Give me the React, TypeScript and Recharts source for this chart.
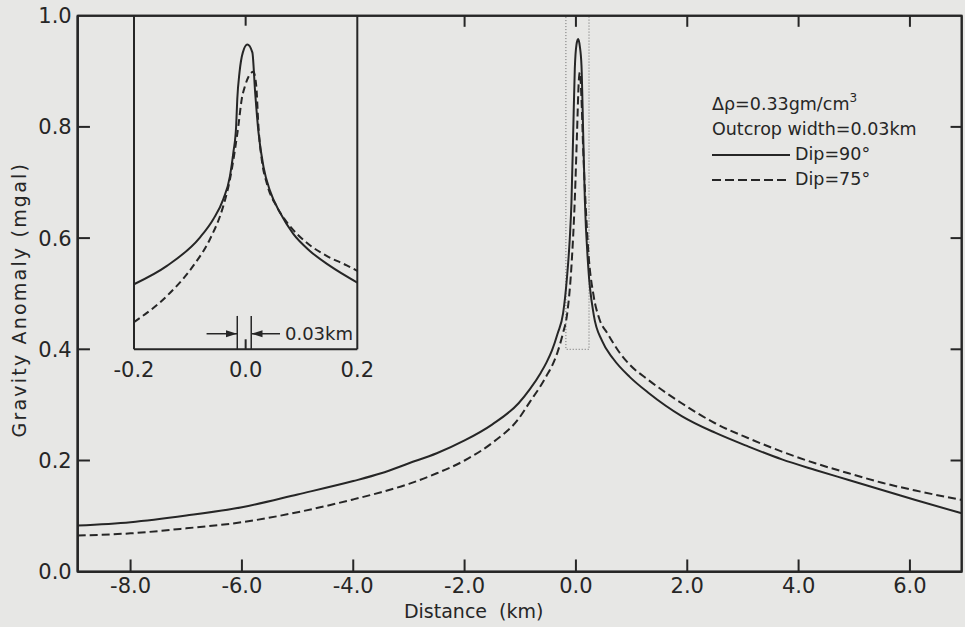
import React from "react";
import {
  LineChart,
  Line,
  XAxis,
  YAxis,
  ReferenceArea,
  ReferenceLine,
  ReferenceDot,
} from "recharts";

const FONT = "'DejaVu Sans', sans-serif";
const INK = "#262626";
const PAPER = "#e7e7e5";

// main profile, distance in km
const mainDist90 = [
  -8.95, -8, -7, -6, -5, -4, -3.5, -3, -2.5, -2, -1.5, -1.03, -0.83, -0.63,
  -0.53, -0.43, -0.33, -0.23, -0.16, -0.11, -0.08, -0.05, -0.02, 0.01, 0.04,
  0.07, 0.1, 0.13, 0.16, 0.22, 0.32, 0.47, 0.67, 0.97, 1.3, 1.9, 2.5, 3.1, 3.7,
  4.3, 4.9, 5.5, 6.1, 6.93,
];
const mainGrav90 = [
  0.083, 0.089, 0.101, 0.116, 0.139, 0.163, 0.177, 0.195, 0.213, 0.236, 0.265,
  0.303, 0.328, 0.358, 0.376, 0.398, 0.428, 0.465, 0.53, 0.6, 0.665, 0.785,
  0.905, 0.948, 0.958, 0.945, 0.91, 0.79, 0.67, 0.55, 0.462, 0.415, 0.383,
  0.35, 0.322, 0.28, 0.25, 0.225, 0.202, 0.183, 0.165, 0.147, 0.129, 0.105,
];
const mainDist75 = [
  -8.95, -8, -7, -6, -5, -4, -3.5, -3, -2.5, -2, -1.5, -1.03, -0.83, -0.63,
  -0.53, -0.43, -0.33, -0.23, -0.16, -0.08, -0.02, 0.02, 0.05, 0.07, 0.1, 0.13,
  0.17, 0.22, 0.32, 0.42, 0.57, 0.77, 0.97, 1.3, 1.9, 2.5, 3.1, 3.7, 4.3, 4.9,
  5.5, 6.1, 6.93,
];
const mainGrav75 = [
  0.065, 0.069, 0.078, 0.089, 0.107, 0.13, 0.143, 0.158, 0.177, 0.2, 0.232,
  0.275, 0.305, 0.335, 0.352, 0.37, 0.395, 0.43, 0.462, 0.55, 0.67, 0.79, 0.88,
  0.898, 0.85, 0.76, 0.67, 0.58, 0.495, 0.455, 0.428, 0.396, 0.372, 0.345,
  0.303, 0.267, 0.24, 0.216, 0.195, 0.177, 0.16, 0.146, 0.129,
];

// inset, -0.2 .. 0.2 km (same mgal scale as the main plot)
const insetDist90 = [
  -0.2, -0.141, -0.082, -0.058, -0.04, -0.028, -0.022, -0.017, -0.015, -0.011,
  -0.005, 0.003, 0.012, 0.017, 0.023, 0.032, 0.044, 0.062, 0.085, 0.115, 0.151,
  0.2,
];
const insetGrav90 = [
  0.517, 0.55, 0.601, 0.634, 0.67, 0.712, 0.754, 0.802, 0.85, 0.898, 0.934,
  0.948, 0.934, 0.862, 0.79, 0.728, 0.684, 0.645, 0.608, 0.577, 0.55, 0.52,
];
const insetDist75 = [
  -0.2, -0.141, -0.094, -0.064, -0.04, -0.028, -0.019, -0.013, -0.007, -0.001,
  0.006, 0.014, 0.019, 0.023, 0.029, 0.038, 0.056, 0.079, 0.109, 0.145, 0.181,
  0.2,
];
const insetGrav75 = [
  0.449, 0.496, 0.55, 0.598, 0.658, 0.706, 0.76, 0.802, 0.85, 0.874, 0.892,
  0.899, 0.874, 0.8, 0.74, 0.698, 0.656, 0.622, 0.592, 0.568, 0.551, 0.541,
];

const X_MIN = -8.95;
const X_MAX = 6.93;
const mainXTicks = [-8, -6, -4, -2, 0, 2, 4, 6];
const mainTopTicks = [-2, 0, 2, 4, 6];
const mainYTicks = [0, 0.2, 0.4, 0.6, 0.8, 1.0];
const innerYTicks = [0.2, 0.4, 0.6, 0.8];
const insetXTicks = [-0.2, 0, 0.2];
const legendRows = [
  { name: "Dip=90°", dash: undefined as string | undefined },
  { name: "Dip=75°", dash: "9 4" },
];

// layout of the plot and of the inset box (px), used to place the inset x scale
const PLOT = { left: 77.7, right: 961.7, top: 15.7, bottom: 571.7 };
const INSET = { left: 134, right: 357.3, lo: -0.2, hi: 0.2, floor: 0.4 };
const kIn = (INSET.hi - INSET.lo) / (INSET.right - INSET.left);
const IN_MIN = INSET.lo - (INSET.left - PLOT.left) * kIn;
const IN_MAX = INSET.hi + (PLOT.right - INSET.right) * kIn;
// km on the main axis -> units of the inset axis (both span the same plot width)
const kmToIn = (t: number) => IN_MIN + ((t - X_MIN) * (IN_MAX - IN_MIN)) / (X_MAX - X_MIN);

const zip = (xs: number[], ys: number[]) => xs.map((x, i) => ({ x, y: ys[i] }));

const main90 = zip(mainDist90, mainGrav90);
const main75 = zip(mainDist75, mainGrav75);
const inset90 = zip(insetDist90, insetGrav90);
const inset75 = zip(insetDist75, insetGrav75);

const fmt = (v: number) => (Math.abs(v) < 1e-9 ? "0.0" : v.toFixed(1));

const BottomTick = (props: any) => {
  const { x, y, payload } = props;
  return (
    <text x={x} y={Number(y) + 21.5} textAnchor="middle" fontSize={21} fontFamily={FONT} fill={INK}>
      {fmt(payload.value)}
    </text>
  );
};

const LeftTick = (props: any) => {
  const { x, y, payload } = props;
  return (
    <text x={Number(x) - 6} y={y} dy="0.36em" textAnchor="end" fontSize={21} fontFamily={FONT} fill={INK}>
      {fmt(payload.value)}
    </text>
  );
};

const InsetTickLabel = (props: any) => {
  const { viewBox, text } = props;
  const cx = viewBox.x + (viewBox.width || 0) / 2;
  const cy = viewBox.y + (viewBox.height || 0) / 2;
  return (
    <text x={cx} y={cy + 28} textAnchor="middle" fontSize={21} fontFamily={FONT} fill={INK}>
      {text}
    </text>
  );
};

const XTitle = (props: any) => {
  const { viewBox } = props;
  return (
    <text
      x={viewBox.x + viewBox.width / 2 - 46}
      y={viewBox.y + 46}
      textAnchor="middle"
      fontSize={19}
      fontFamily={FONT}
      fill={INK}
    >
      {"Distance\u00A0\u00A0(km)"}
    </text>
  );
};

const YTitle = (props: any) => {
  const { viewBox } = props;
  const cx = viewBox.x + 1;
  const cy = viewBox.y + viewBox.height / 2 + 6;
  return (
    <text
      x={cx}
      y={cy}
      transform={`rotate(-90, ${cx}, ${cy})`}
      textAnchor="middle"
      dominantBaseline="central"
      fontSize={19}
      letterSpacing={2.2}
      fontFamily={FONT}
      fill={INK}
    >
      Gravity Anomaly (mgal)
    </text>
  );
};

const LegendBox = () => (
  <div
    style={{
      position: "absolute",
      left: 712,
      top: 92,
      fontFamily: FONT,
      fontSize: 17.5,
      color: INK,
      lineHeight: "25px",
      whiteSpace: "nowrap",
    }}
  >
    <div>
      Δρ=0.33gm/cm<sup style={{ fontSize: 12, verticalAlign: "8px", lineHeight: 0 }}>3</sup>
    </div>
    <div>Outcrop width=0.03km</div>
    {legendRows.map((row) => (
      <div key={row.name} style={{ display: "flex", alignItems: "center" }}>
        <svg width={78} height={10}>
          <line x1={0} x2={78} y1={5} y2={5} stroke={INK} strokeWidth={2} strokeDasharray={row.dash} />
        </svg>
        <span style={{ marginLeft: 5 }}>{row.name}</span>
      </div>
    ))}
  </div>
);

const Arrow = (props: any) => {
  const { x1, y1, x2, y2, text } = props;
  const dir = Math.sign(x2 - x1) || 1;
  return (
    <g>
      <line x1={x1} y1={y1} x2={x2} y2={y2} stroke={INK} strokeWidth={1.5} />
      <polygon
        points={`${x2},${y2} ${x2 - dir * 11},${y2 - 3.5} ${x2 - dir * 11},${y2 + 3.5}`}
        fill={INK}
      />
      {text ? (
        <text x={x1 + 5} y={y1} dy="0.36em" fontSize={18} fontFamily={FONT} fill={INK}>
          {text}
        </text>
      ) : null}
    </g>
  );
};

const ink2 = { stroke: INK, strokeWidth: 2 };

// main frame and its inward ticks, in km
const mainSegmentsKm = [
  [{ x: X_MIN, y: 0 }, { x: X_MAX, y: 0 }],
  [{ x: X_MIN, y: 1 }, { x: X_MAX, y: 1 }],
  [{ x: X_MIN, y: 0 }, { x: X_MIN, y: 1 }],
  [{ x: X_MAX, y: 0 }, { x: X_MAX, y: 1 }],
  ...mainXTicks.map((t) => [{ x: t, y: 0 }, { x: t, y: 0.022 }]),
  ...mainTopTicks.map((t) => [{ x: t, y: 1 }, { x: t, y: 0.98 }]),
  ...innerYTicks.map((v) => [{ x: X_MIN, y: v }, { x: X_MIN + 0.22, y: v }]),
  ...innerYTicks.map((v) => [{ x: X_MAX, y: v }, { x: X_MAX - 0.2, y: v }]),
];
const mainSegmentsIn = mainSegmentsKm.map((seg) => seg.map((p) => ({ x: kmToIn(p.x), y: p.y })));

const insetSegments = [
  [{ x: INSET.lo, y: INSET.floor }, { x: INSET.lo, y: 1 }],
  [{ x: INSET.hi, y: INSET.floor }, { x: INSET.hi, y: 1 }],
  [{ x: INSET.lo, y: INSET.floor }, { x: INSET.hi, y: INSET.floor }],
  [{ x: 0, y: INSET.floor }, { x: 0, y: INSET.floor + 0.018 }],
  [{ x: 0, y: 1 }, { x: 0, y: 0.982 }],
];

export default function App() {
  return (
    <div style={{ position: "absolute", left: 0, top: 0, width: 965, height: 627, background: PAPER }}>
      <LineChart
        width={965}
        height={627}
        margin={{ top: PLOT.top, right: 965 - PLOT.right, bottom: 627 - PLOT.bottom - 30, left: PLOT.left - 60 }}
      >
        <XAxis
          dataKey="x"
          type="number"
          domain={[X_MIN, X_MAX]}
          ticks={mainXTicks}
          allowDataOverflow
          height={30}
          stroke={INK}
          strokeWidth={2}
          tickSize={0}
          tickMargin={0}
          tickLine={false}
          tick={<BottomTick />}
          interval={0}
          label={<XTitle />}
        />
        <XAxis xAxisId="in" dataKey="x" type="number" domain={[IN_MIN, IN_MAX]} allowDataOverflow hide />
        <YAxis
          type="number"
          domain={[0, 1]}
          ticks={mainYTicks}
          allowDataOverflow
          width={60}
          stroke={INK}
          strokeWidth={2}
          tickSize={0}
          tickMargin={0}
          tickLine={false}
          tick={<LeftTick />}
          interval={0}
          label={<YTitle />}
        />

        {/* frame of the main plot */}
        <ReferenceArea x1={X_MIN} x2={X_MAX} y1={0} y2={1} fill="none" fillOpacity={0} {...ink2} />
        {mainSegmentsIn.map((seg, i) => (
          <ReferenceLine key={`m${i}`} xAxisId="in" segment={seg} {...ink2} ifOverflow="visible" />
        ))}

        {/* zoom window drawn on the main profile */}
        <ReferenceArea
          x1={-0.18}
          x2={0.235}
          y1={0.4}
          y2={1.0}
          fill="none"
          fillOpacity={0}
          stroke="#6a6a6a"
          strokeWidth={1}
          strokeDasharray="1 2"
        />

        <Line
          data={main90}
          dataKey="y"
          name="Dip=90°"
          type="monotone"
          stroke={INK}
          strokeWidth={2}
          dot={false}
          isAnimationActive={false}
        />
        <Line
          data={main75}
          dataKey="y"
          name="Dip=75°"
          type="monotone"
          stroke={INK}
          strokeWidth={2}
          strokeDasharray="8 4"
          dot={false}
          isAnimationActive={false}
        />

        {/* inset frame */}
        {insetSegments.map((seg, i) => (
          <ReferenceLine key={`i${i}`} xAxisId="in" segment={seg} {...ink2} ifOverflow="visible" />
        ))}
        {insetXTicks.map((t) => (
          <ReferenceDot
            key={`it${t}`}
            xAxisId="in"
            x={t}
            y={INSET.floor}
            r={0.01}
            fill="none"
            stroke="none"
            ifOverflow="visible"
            label={<InsetTickLabel text={fmt(t)} />}
          />
        ))}

        {/* outcrop width marker */}
        <ReferenceLine xAxisId="in" segment={[{ x: -0.015, y: INSET.floor }, { x: -0.015, y: 0.46 }]} stroke={INK} strokeWidth={1.5} />
        <ReferenceLine xAxisId="in" segment={[{ x: 0.01, y: INSET.floor }, { x: 0.01, y: 0.46 }]} stroke={INK} strokeWidth={1.5} />
        <ReferenceLine
          xAxisId="in"
          segment={[{ x: -0.07, y: 0.428 }, { x: -0.0155, y: 0.428 }]}
          shape={(p: any) => <Arrow {...p} />}
        />
        <ReferenceLine
          xAxisId="in"
          segment={[{ x: 0.0615, y: 0.428 }, { x: 0.0105, y: 0.428 }]}
          shape={(p: any) => <Arrow {...p} text="0.03km" />}
        />

        <Line
          xAxisId="in"
          data={inset90}
          dataKey="y"
          type="monotone"
          stroke={INK}
          strokeWidth={2}
          dot={false}
          isAnimationActive={false}
        />
        <Line
          xAxisId="in"
          data={inset75}
          dataKey="y"
          type="monotone"
          stroke={INK}
          strokeWidth={2}
          strokeDasharray="7 4"
          dot={false}
          isAnimationActive={false}
        />
      </LineChart>
      <LegendBox />
    </div>
  );
}
